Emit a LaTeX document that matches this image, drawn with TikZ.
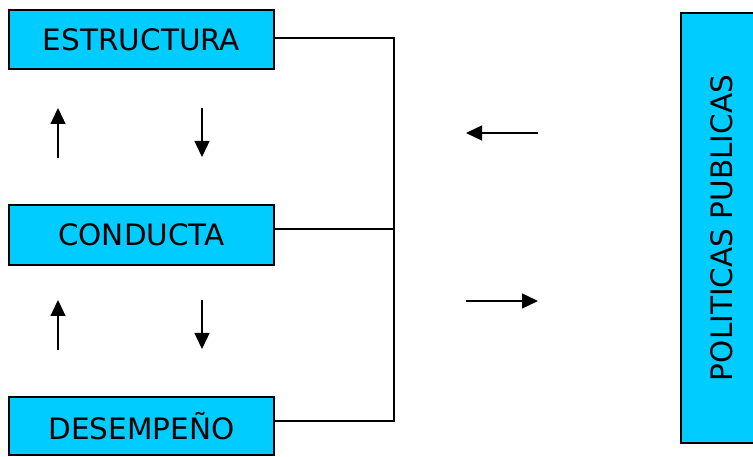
\documentclass[tikz,border=0pt]{standalone}
\usepackage{fontspec}
\setmainfont{DejaVu Sans}
\usetikzlibrary{arrows.meta}
\definecolor{boxcyan}{HTML}{00CCFF}
\begin{document}
\begin{tikzpicture}[x=1pt,y=-1pt,
  blockbox/.style={draw=black, line width=1.6pt, fill=boxcyan, inner sep=0pt,
    font=\fontsize{29.5}{32}\selectfont},
  wire/.style={line width=1.3pt},
  flow/.style={line width=1.3pt, -{Triangle[length=16pt,width=15pt]}}]
\useasboundingbox (0,0) rectangle (753,457);
\clip (0,0) rectangle (753,457);

% three stacked stage boxes
\node[blockbox, minimum width=265pt, minimum height=59pt] (est) at (141.5,39.5) {ESTRUCTURA};
\node[blockbox, minimum width=265pt, minimum height=60pt] (con) at (141.5,235) {CONDUCTA};
\node[blockbox, minimum width=265pt, minimum height=58pt] (des) at (141.5,426) {DESEMPEÑO};

% policy box on the right, running past the edge
\node[blockbox, minimum width=82pt, minimum height=430pt] (pol) at (722,228) {};
\node[rotate=90, font=\fontsize{29.5}{32}\selectfont] (poltxt) at (722,228) {POLITICAS PUBLICAS};

% bus collecting the three stages
\coordinate (busE) at (394,38);
\coordinate (busC) at (394,229);
\coordinate (busD) at (394,421);
\draw[wire] (est.east |- busE) -- (busE) -- (busD) -- (des.east |- busD);
\draw[wire] (con.east |- busC) -- (busC);

% feedback arrows between stages
\coordinate (u1a) at (58,158); \coordinate (u1b) at (58,108);
\coordinate (d1a) at (202,108); \coordinate (d1b) at (202,157);
\coordinate (u2a) at (58,350); \coordinate (u2b) at (58,300);
\coordinate (d2a) at (202,300); \coordinate (d2b) at (202,349);
\draw[flow] (u1a) -- (u1b);
\draw[flow] (d1a) -- (d1b);
\draw[flow] (u2a) -- (u2b);
\draw[flow] (d2a) -- (d2b);

% exchange with the policy box
\coordinate (la) at (538,133); \coordinate (lb) at (466,133);
\coordinate (ra) at (466,301); \coordinate (rb) at (538,301);
\draw[flow] (la) -- (lb);
\draw[flow] (ra) -- (rb);
\end{tikzpicture}
\end{document}
